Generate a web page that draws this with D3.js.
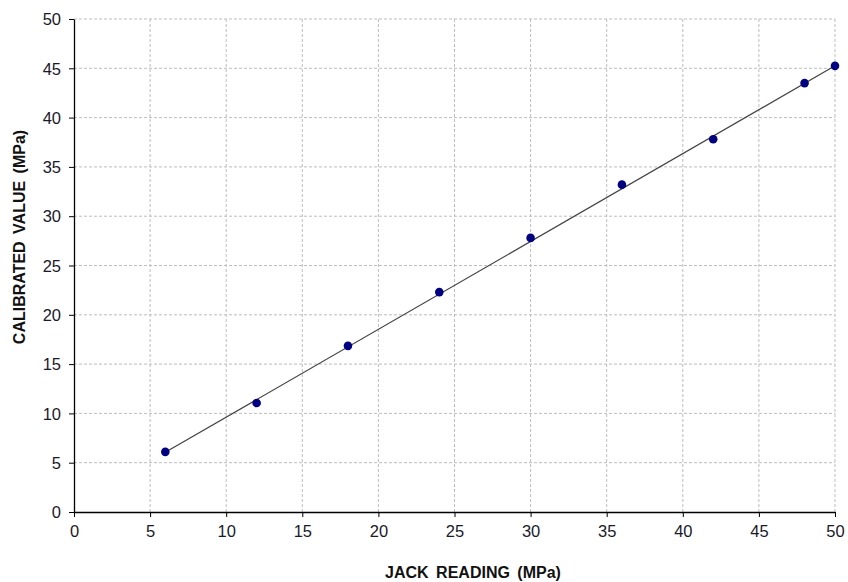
<!DOCTYPE html>
<html><head><meta charset="utf-8">
<script src="https://cdn.jsdelivr.net/npm/d3@7"></script>
<style>body{margin:0;background:#fff}svg{display:block}</style>
</head><body>
<svg id="c" width="848" height="582"></svg>
<script>
const jackReading = [6, 12, 18, 24, 30, 36, 42, 48, 50];
const calibratedValue = [6.1, 11.05, 16.85, 22.3, 27.8, 33.2, 37.8, 43.5, 45.25];
const trendX = [6, 50];
const trendY = [6.05, 45.25];
const xTicks = [0, 5, 10, 15, 20, 25, 30, 35, 40, 45, 50];
const yTicks = [0, 5, 10, 15, 20, 25, 30, 35, 40, 45, 50];

const svg = d3.select("#c");
const L = 74, R = 835, T = 19, B = 512;
const x = d3.scaleLinear().domain([0, 50]).range([L, R]);
const y = d3.scaleLinear().domain([0, 50]).range([B, T]);
const font = "Liberation Sans, Arial, sans-serif";

// grid
const g = svg.append("g");
g.selectAll(".gx").data(xTicks.slice(1)).enter().append("line")
  .attr("x1", d => x(d)).attr("x2", d => x(d)).attr("y1", T).attr("y2", B)
  .attr("stroke", "#bdbdbd").attr("stroke-width", 1).attr("stroke-dasharray", "3,2");
g.selectAll(".gy").data(yTicks.slice(1)).enter().append("line")
  .attr("y1", d => y(d)).attr("y2", d => y(d)).attr("x1", L).attr("x2", R)
  .attr("stroke", "#bdbdbd").attr("stroke-width", 1).attr("stroke-dasharray", "3,2");

// axes
const xa = svg.append("g").attr("transform", `translate(0,${B})`)
  .call(d3.axisBottom(x).tickValues(xTicks).tickSize(5).tickPadding(8).tickSizeOuter(0));
const ya = svg.append("g").attr("transform", `translate(${L},0)`)
  .call(d3.axisLeft(y).tickValues(yTicks).tickSize(5).tickPadding(8).tickSizeOuter(0));
[xa, ya].forEach(a => {
  a.select(".domain").attr("stroke", "#000").attr("stroke-width", 1.3);
  a.selectAll(".tick line").attr("stroke", "#000");
  a.selectAll("text").attr("font-family", font).attr("font-size", 16.5).attr("fill", "#1a1a2a");
});
ya.selectAll("text").attr("dy", "0.35em");

// trend line
svg.append("path")
  .datum(trendX.map((d, i) => [d, trendY[i]]))
  .attr("d", d3.line().x(d => x(d[0])).y(d => y(d[1])))
  .attr("fill", "none").attr("stroke", "#444").attr("stroke-width", 1.2);

// points
svg.selectAll(".pt").data(jackReading).enter().append("circle")
  .attr("cx", d => x(d)).attr("cy", (d, i) => y(calibratedValue[i]))
  .attr("r", 4.3).attr("fill", "#000080");

// titles
svg.append("text").attr("x", 473).attr("y", 578).attr("text-anchor", "middle")
  .attr("font-family", font).attr("font-size", 16).attr("font-weight", "bold")
  .attr("fill", "#111").attr("word-spacing", 3).text("JACK READING (MPa)");
svg.append("text").attr("transform", "translate(25,237) rotate(-90)").attr("text-anchor", "middle")
  .attr("font-family", font).attr("font-size", 16).attr("font-weight", "bold")
  .attr("fill", "#111").attr("word-spacing", 3).text("CALIBRATED VALUE (MPa)");
</script>
</body></html>
